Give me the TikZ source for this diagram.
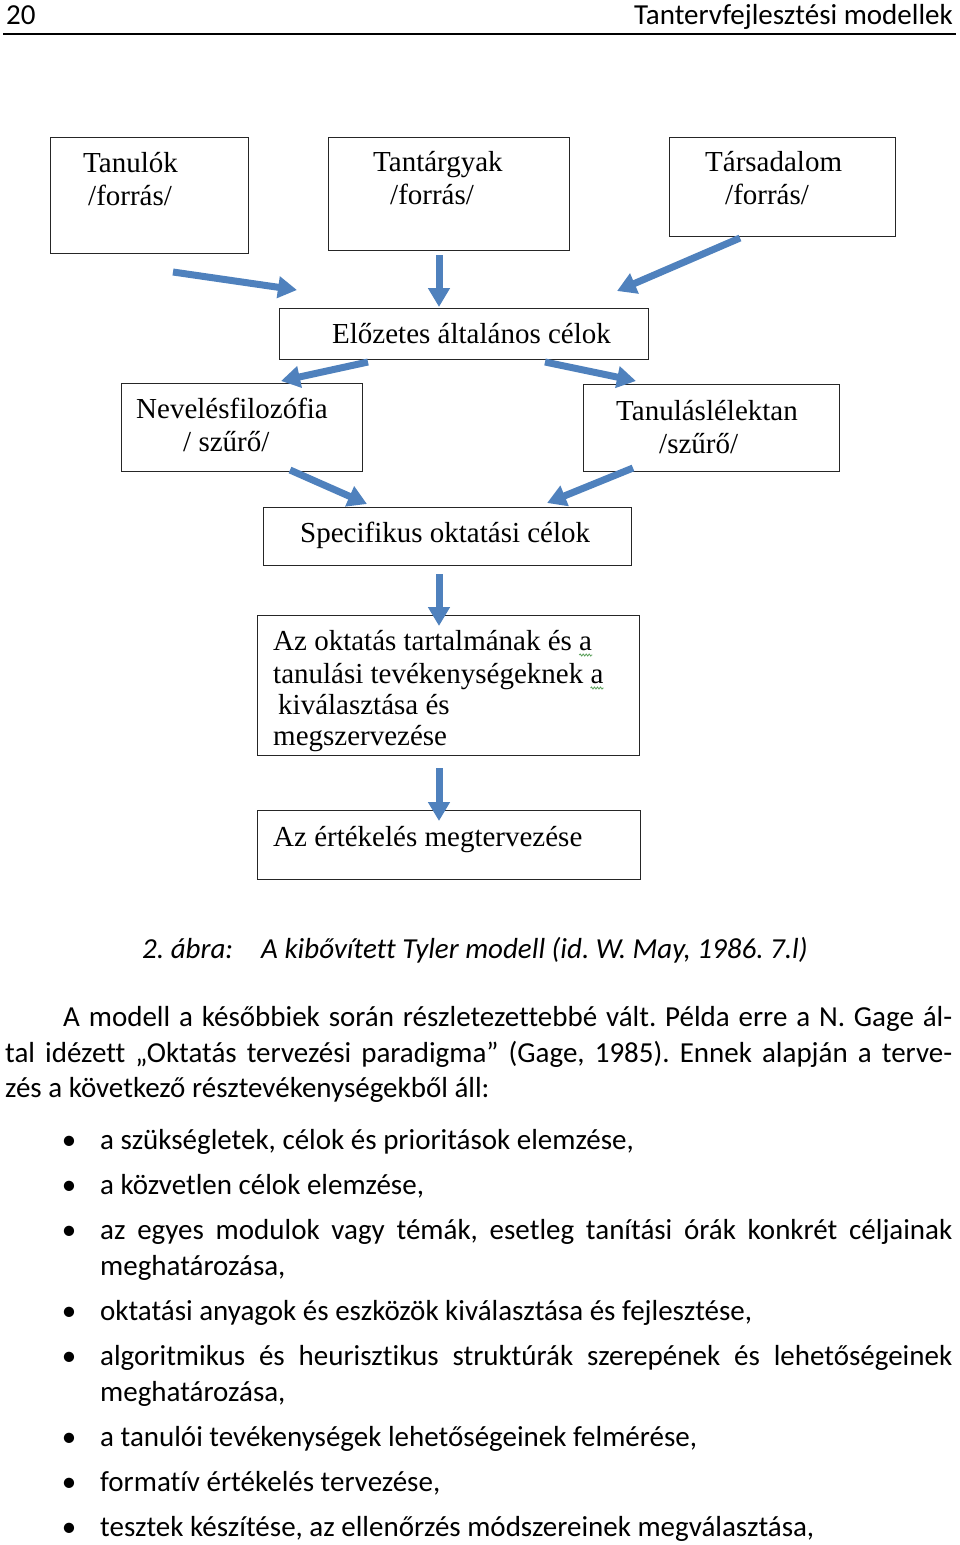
\documentclass[tikz,border=0pt]{standalone}
\usepackage{fontspec}
\setmainfont{Liberation Serif}
\newfontfamily\calibri[Ligatures={NoCommon,TeX}]{Carlito}
\usetikzlibrary{arrows.meta,decorations.pathmorphing}
\definecolor{arrblue}{RGB}{79,129,189}
\definecolor{spellgreen}{RGB}{90,160,90}
\frenchspacing
\begin{document}
\begin{tikzpicture}[x=1pt,y=-1pt,
  box/.style={draw=black!85,line width=1.4pt,inner sep=0pt,anchor=north west},
  btxt/.style={inner sep=0pt,anchor=base west,font=\fontsize{29}{33}\selectfont},
  ctxt/.style={inner sep=0pt,anchor=base west,font=\calibri\frenchspacing\fontsize{29}{35}\selectfont},
  bul/.style={inner sep=0pt,anchor=base,font=\calibri\fontsize{29}{35}\selectfont},
  bluearrow/.style={draw=arrblue,line width=7pt,-{Triangle[width=21pt,length=19pt]}},
  squiggle/.style={draw=spellgreen,line width=0.8pt,decorate,decoration={snake,amplitude=1pt,segment length=3pt}}
]
\useasboundingbox (0,0) rectangle (960,1545);

% header
\node[ctxt] (pagenum) at (6,24) {20};
\node[ctxt,anchor=base east] (runhead) at (953,24) {Tantervfejlesztési modellek};
\coordinate (ruleL) at (3,34);
\coordinate (ruleR) at (956,34);
\draw[line width=1.3pt] (ruleL) -- (ruleR);

% boxes
\node[box,minimum width=198pt,minimum height=116pt] (tanulok) at (50,137) {};
\node[box,minimum width=241pt,minimum height=113pt] (tantargyak) at (328,137) {};
\node[box,minimum width=226pt,minimum height=99pt] (tarsadalom) at (669,137) {};
\node[box,minimum width=369pt,minimum height=51pt] (elozetes) at (279,308) {};
\node[box,minimum width=241pt,minimum height=88pt] (neveles) at (121,383) {};
\node[box,minimum width=256pt,minimum height=87pt] (tanulas) at (583,384) {};
\node[box,minimum width=368pt,minimum height=58pt] (specifikus) at (263,507) {};
\node[box,minimum width=382pt,minimum height=140pt] (oktatas) at (257,615) {};
\node[box,minimum width=383pt,minimum height=69pt] (ertekeles) at (257,810) {};

% box texts
\node[btxt] (t1a) at (83,172) {Tanulók};
\node[btxt] (t1b) at (88,205) {/forrás/};
\node[btxt] (t2a) at (373,171) {Tantárgyak};
\node[btxt] (t2b) at (390,204) {/forrás/};
\node[btxt] (t3a) at (705,171) {Társadalom};
\node[btxt] (t3b) at (725,204) {/forrás/};
\node[btxt] (t4) at (332,343) {Előzetes általános célok};
\node[btxt] (t5a) at (136,418) {Nevelésfilozófia};
\node[btxt] (t5b) at (183,451) {/ szűrő/};
\node[btxt] (t6a) at (616,420) {Tanuláslélektan};
\node[btxt] (t6b) at (659,453) {/szűrő/};
\node[btxt] (t7) at (300,542) {Specifikus oktatási célok};
\node[btxt] (t8a) at (273,650) {Az oktatás tartalmának és a};
\node[btxt] (t8b) at (273,683) {tanulási tevékenységeknek a};
\node[btxt] (t8c) at (278,714) {kiválasztása és};
\node[btxt] (t8d) at (273,745) {megszervezése};
\node[btxt] (t9) at (273,846) {Az értékelés megtervezése};

% spell-check squiggles
\draw[squiggle] (t8a.base east) ++(-13,5) -- ++(13,0);
\draw[squiggle] (t8b.base east) ++(-13,5) -- ++(13,0);

% arrow end points
\coordinate (a1s) at (173,272); \coordinate (a1e) at (297,290);
\coordinate (a2s) at (439,255); \coordinate (a2e) at (439,307);
\coordinate (a3s) at (740,238); \coordinate (a3e) at (617,291);
\coordinate (a4s) at (368,362); \coordinate (a4e) at (281,381);
\coordinate (a5s) at (545,362); \coordinate (a5e) at (636,381);
\coordinate (a6s) at (290,470); \coordinate (a6e) at (367,504);
\coordinate (a7s) at (633,468); \coordinate (a7e) at (547,503);
\coordinate (a8s) at (439,574); \coordinate (a8e) at (439,626);
\coordinate (a9s) at (439,768); \coordinate (a9e) at (439,821);
\draw[bluearrow] (a1s) -- (a1e);
\draw[bluearrow] (a2s) -- (a2e);
\draw[bluearrow] (a3s) -- (a3e);
\draw[bluearrow] (a4s) -- (a4e);
\draw[bluearrow] (a5s) -- (a5e);
\draw[bluearrow] (a6s) -- (a6e);
\draw[bluearrow] (a7s) -- (a7e);
\draw[bluearrow] (a8s) -- (a8e);
\draw[bluearrow] (a9s) -- (a9e);

% caption
\node[ctxt,font=\calibri\itshape\frenchspacing\fontsize{29}{35}\selectfont] (capnum) at (142,958) {2. ábra:};
\node[ctxt,font=\calibri\itshape\frenchspacing\fontsize{29}{35}\selectfont] (captxt) at (261,958) {A kibővített Tyler modell (id. W. May, 1986. 7.l)};

% paragraph
\node[ctxt] (p1) at (63,1026) {\makebox[889pt][s]{A modell a későbbiek során részletezettebbé vált. Példa erre a N. Gage ál-}};
\node[ctxt] (p2) at (5,1062) {\makebox[947pt][s]{tal idézett „Oktatás tervezési paradigma” (Gage, 1985). Ennek alapján a terve-}};
\node[ctxt] (p3) at (5,1097) {zés a következő résztevékenységekből áll:};

% bullet list
\foreach \y/\n in {1149/1,1194/2,1239/3,1320/4,1365/5,1446/6,1491/7,1536/8}{
  \node[bul] (b\n) at (69,\y) {•};
}
\node[ctxt] (i1) at (100,1149) {a szükségletek, célok és prioritások elemzése,};
\node[ctxt] (i2) at (100,1194) {a közvetlen célok elemzése,};
\node[ctxt] (i3a) at (100,1239) {\makebox[852pt][s]{az egyes modulok vagy témák, esetleg tanítási órák konkrét céljainak}};
\node[ctxt] (i3b) at (100,1275) {meghatározása,};
\node[ctxt] (i4) at (100,1320) {oktatási anyagok és eszközök kiválasztása és fejlesztése,};
\node[ctxt] (i5a) at (100,1365) {\makebox[852pt][s]{algoritmikus és heurisztikus struktúrák szerepének és lehetőségeinek}};
\node[ctxt] (i5b) at (100,1401) {meghatározása,};
\node[ctxt] (i6) at (100,1446) {a tanulói tevékenységek lehetőségeinek felmérése,};
\node[ctxt] (i7) at (100,1491) {formatív értékelés tervezése,};
\node[ctxt] (i8) at (100,1536) {tesztek készítése, az ellenőrzés módszereinek megválasztása,};
\end{tikzpicture}
\end{document}
